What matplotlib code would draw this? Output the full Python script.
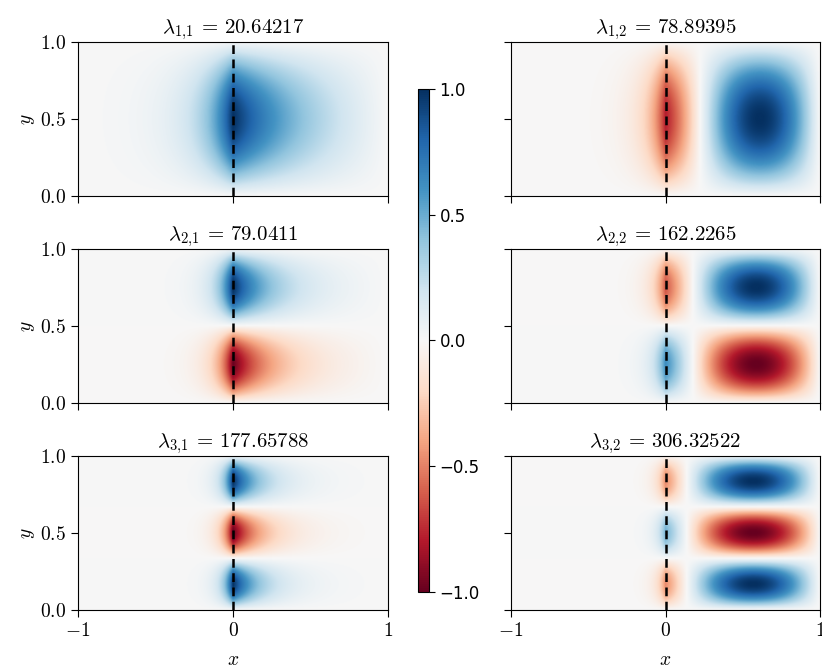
import numpy as np
import matplotlib
matplotlib.use("Agg")
import matplotlib.pyplot as plt

plt.rcParams['font.family'] = 'serif'
plt.rcParams['font.serif'] = ['cmr10']
plt.rcParams['mathtext.fontset'] = 'cm'
plt.rcParams['axes.formatter.use_mathtext'] = True
plt.rcParams['axes.unicode_minus'] = True

# eigenvalues lambda_{m,n}: rows m = 1..3, columns n = 1..2
lam = [[20.64217, 78.89395],
       [79.0411, 162.2265],
       [177.65788, 306.32522]]
lam_labels = [["20.64217", "78.89395"],
              ["79.0411", "162.2265"],
              ["177.65788", "306.32522"]]
modes_y = [1, 2, 3]

# -div(sigma grad u) = lambda u on (-1,1)x(0,1), sigma = -1 for x<0, 3 for x>0
sig_left = -1.0
sig_right = 3.0

x = np.linspace(-1, 1, 601)
y = np.linspace(0, 1, 301)


def x_profile(lmb, m):
    mpi2 = (m * np.pi) ** 2
    p = np.sqrt(mpi2 + lmb / abs(sig_left))
    X = np.zeros_like(x)
    left = x < 0
    X[left] = np.sinh(p * (x[left] + 1)) / np.sinh(p)
    k2 = lmb / sig_right - mpi2
    r = ~left
    if k2 > 0:
        k = np.sqrt(k2)
        X[r] = np.sin(k * (1 - x[r])) / np.sin(k)
    else:
        q = np.sqrt(-k2)
        X[r] = np.sinh(q * (1 - x[r])) / np.sinh(q)
    return X / X[np.argmax(np.abs(X))]


fig = plt.figure(figsize=(8.22, 6.69), dpi=100)
lefts = [0.0949, 0.6217]
widths = [0.3771, 0.3759]
bottoms = [0.707, 0.3976, 0.0882]
h = 0.2302

for i in range(3):
    m = modes_y[i]
    Y = np.sin(m * np.pi * (1 - y))
    for j in range(2):
        ax = fig.add_axes([lefts[j], bottoms[i], widths[j], h])
        U = np.outer(Y, x_profile(lam[i][j], m))
        im = ax.imshow(U, extent=[-1, 1, 0, 1], origin='lower', aspect='auto',
                       cmap='RdBu', vmin=-1, vmax=1, interpolation='bilinear')
        ax.axvline(0, color='k', ls='--', lw=1.8, dashes=(3.5, 2.2))
        ax.set_xlim(-1, 1)
        ax.set_ylim(0, 1)
        ax.set_xticks([-1, 0, 1])
        ax.set_yticks([0, 0.5, 1])
        ax.tick_params(labelsize=14, length=5)
        ax.set_title(r'$\lambda_{%d,\!%d}\,=\,%s$' % (m, j + 1, lam_labels[i][j]),
                     fontsize=15, pad=6)
        if j == 0:
            ax.set_ylabel(r'$y$', fontsize=14, labelpad=2)
        else:
            ax.set_yticklabels([])
        if i == 2:
            ax.set_xlabel(r'$x$', fontsize=14, labelpad=8)
        else:
            ax.set_xticklabels([])

cax = fig.add_axes([0.5085, 0.1151, 0.0134, 0.7519])
cb = fig.colorbar(im, cax=cax, ticks=[-1, -0.5, 0, 0.5, 1])
cb.ax.set_yticklabels(['\u22121.0', '\u22120.5', '0.0', '0.5', '1.0'],
                      fontfamily='DejaVu Sans', fontsize=12)
cb.ax.tick_params(length=4)

fig.savefig('out.png', dpi=100)
